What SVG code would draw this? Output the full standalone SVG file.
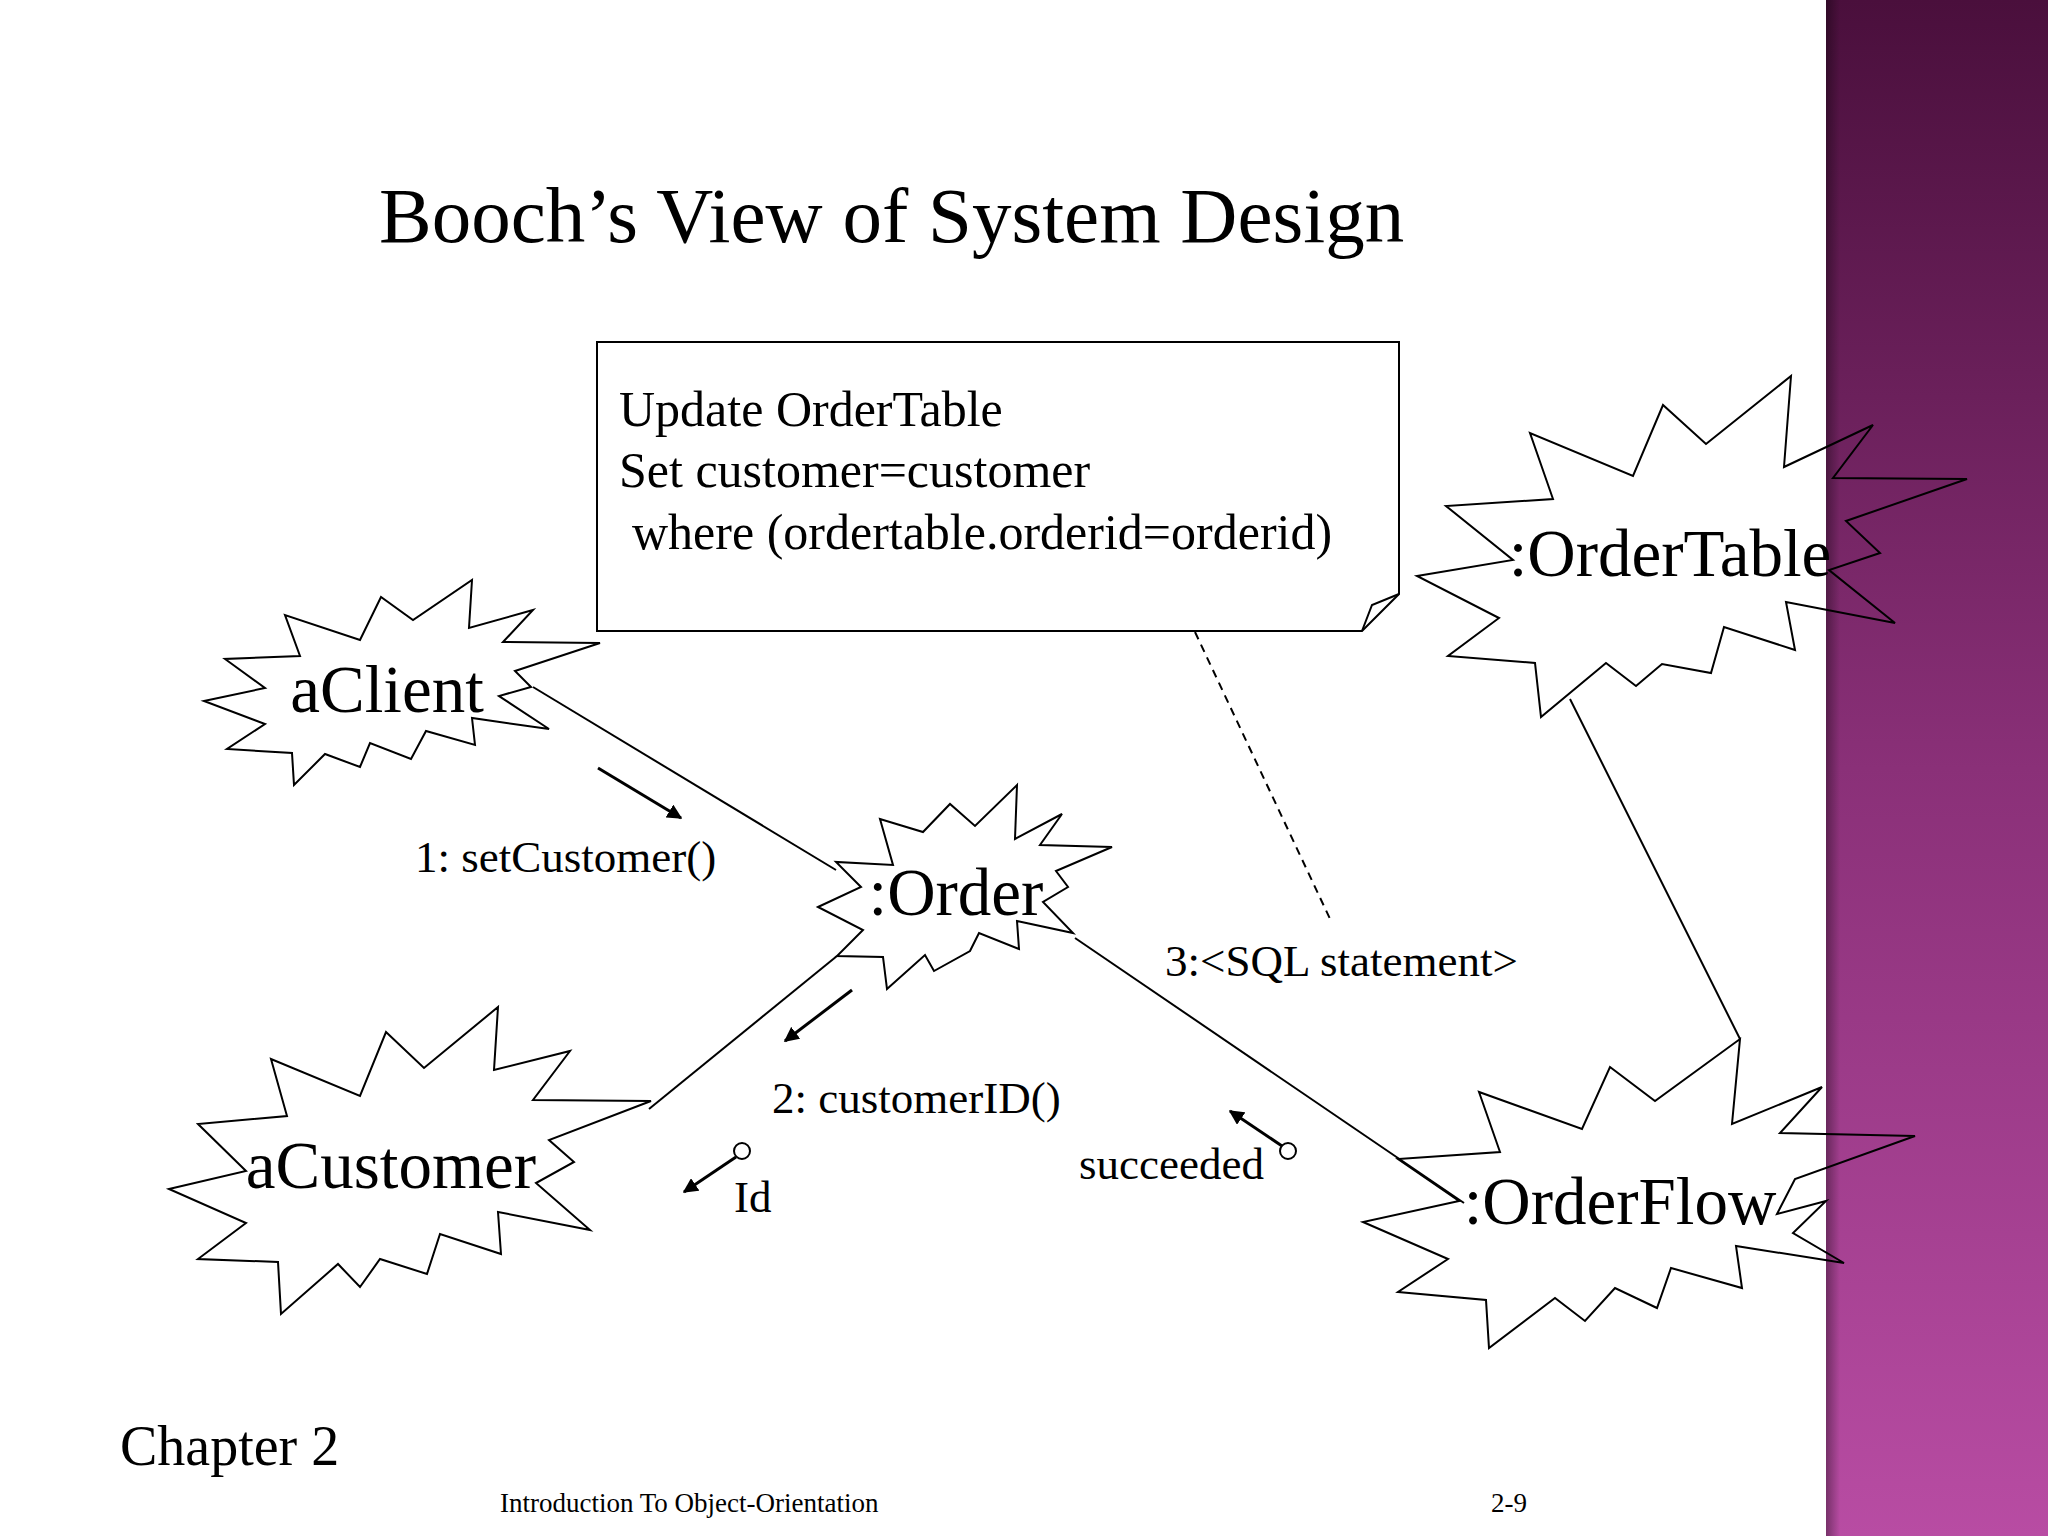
<svg xmlns="http://www.w3.org/2000/svg" width="2048" height="1536" viewBox="0 0 2048 1536">
<defs>
<linearGradient id="pg" x1="0" y1="0" x2="0" y2="1">
<stop offset="0" stop-color="#4a0f3c"/><stop offset="0.5" stop-color="#8a3078"/><stop offset="1" stop-color="#b84ca3"/>
</linearGradient>
<linearGradient id="sh" x1="0" y1="0" x2="1" y2="0">
<stop offset="0" stop-color="#000" stop-opacity="0.35"/><stop offset="1" stop-color="#000" stop-opacity="0"/>
</linearGradient>
<marker id="ah" viewBox="0 0 10 10" refX="9" refY="5" markerWidth="5" markerHeight="5" orient="auto-start-reverse"><path d="M0,0 L10,5 L0,10 z" fill="#000"/></marker>
<style>
text{font-family:"Liberation Serif","Times New Roman",serif;fill:#000}
.star{fill:none;stroke:#000;stroke-width:2}
.obj{font-size:67px;text-anchor:middle}
.lbl{font-size:45px}
.ln{stroke:#000;stroke-width:2;fill:none}
.msg{stroke:#000;stroke-width:3;fill:none;marker-end:url(#ah)}
</style>
</defs>
<rect width="2048" height="1536" fill="#fff"/>
<rect x="1826" y="0" width="222" height="1536" fill="url(#pg)"/>
<rect x="1826" y="0" width="14" height="1536" fill="url(#sh)"/>
<text x="379" y="242" font-size="79">Booch’s View of System Design</text>
<g id="connectors">
<line class="ln" x1="533" y1="687" x2="836" y2="870"/>
<line class="ln" x1="837" y1="956" x2="649" y2="1109"/>
<line class="ln" x1="1075" y1="938" x2="1464" y2="1203"/>
<line class="ln" x1="1570" y1="699" x2="1740" y2="1039"/>
<line class="ln" x1="1195" y1="632" x2="1331" y2="921" stroke-dasharray="8,6"/>
<line class="msg" x1="598" y1="768" x2="681" y2="818"/>
<line class="msg" x1="852" y1="990" x2="785" y2="1041"/>
<circle cx="742" cy="1151" r="8" class="ln"/>
<line class="msg" x1="736" y1="1157" x2="684" y2="1192"/>
<circle cx="1288" cy="1151" r="8" class="ln"/>
<line class="msg" x1="1282" y1="1146" x2="1230" y2="1111"/>
</g>
<g id="note">
<path d="M597,342 H1399 V594 L1362,631 H597 Z" fill="#fff" stroke="#000" stroke-width="2"/>
<path d="M1362,631 L1372,605 L1399,594" fill="none" stroke="#000" stroke-width="2"/>
<text x="619" y="426" font-size="50">Update OrderTable</text>
<text x="619" y="487" font-size="50">Set customer=customer</text>
<text x="632" y="549" font-size="50">where (ordertable.orderid=orderid)</text>
</g>
<g id="aClient">
<polygon class="star" points="204,701 265,688 225,659 300,656 285,615 360,640 381,597 413,620 472,580 469,628 533,610 503,642 600,643 515,671 531,687 499,696 549,729 472,718 475,745 426,731 411,759 370,743 360,767 325,754 294,785 292,753 227,749 265,724"/>
<text class="obj" x="387" y="712">aClient</text>
</g>
<g id="order">
<polygon class="star" points="818,907 861,887 836,862 893,865 880,819 923,832 950,804 975,826 1017,785 1015,839 1062,814 1040,845 1112,847 1056,871 1068,887 1043,902 1073,933 1017,921 1019,949 979,933 970,951 934,971 925,955 887,989 883,957 837,956 863,930"/>
<text class="obj" x="956" y="915">:Order</text>
</g>
<g id="aCustomer">
<polygon class="star" points="169,1189 246,1171 198,1124 287,1116 271,1059 360,1096 386,1032 424,1068 498,1007 494,1070 570,1051 533,1100 651,1101 549,1140 574,1162 536,1183 590,1230 498,1212 501,1254 440,1234 427,1274 380,1259 360,1287 338,1264 281,1314 278,1262 198,1259 246,1223"/>
<text class="obj" x="391" y="1188">aCustomer</text>
</g>
<g id="orderTable">
<polygon class="star" points="1417,576 1513,560 1446,506 1553,499 1530,433 1633,476 1663,405 1706,444 1791,376 1784,467 1873,425 1833,478 1967,479 1846,521 1880,553 1829,570 1895,623 1786,602 1795,650 1724,627 1711,673 1662,664 1636,686 1606,663 1541,717 1535,663 1448,656 1499,618"/>
<text class="obj" x="1670" y="576" font-size="66">:OrderTable</text>
</g>
<g id="orderFlow">
<polygon class="star" points="1363,1222 1448,1259 1398,1292 1486,1300 1489,1348 1555,1298 1585,1321 1615,1288 1657,1308 1671,1268 1742,1288 1736,1246 1844,1263 1793,1233 1826,1201 1777,1214 1795,1179 1915,1136 1780,1133 1822,1087 1732,1124 1740,1039 1655,1101 1610,1067 1582,1129 1479,1092 1500,1152 1398,1159 1459,1201"/>
<text class="obj" x="1620" y="1224">:OrderFlow</text>
</g>
<g id="labels">
<text class="lbl" x="415" y="872">1: setCustomer()</text>
<text class="lbl" x="772" y="1113">2: customerID()</text>
<text class="lbl" x="734" y="1212">Id</text>
<text class="lbl" x="1079" y="1179">succeeded</text>
<text class="lbl" x="1165" y="976">3:&lt;SQL statement&gt;</text>
</g>
<text x="120" y="1465" font-size="56">Chapter 2</text>
<text x="500" y="1512" font-size="27">Introduction To Object-Orientation</text>
<text x="1491" y="1512" font-size="27">2-9</text>
</svg>
